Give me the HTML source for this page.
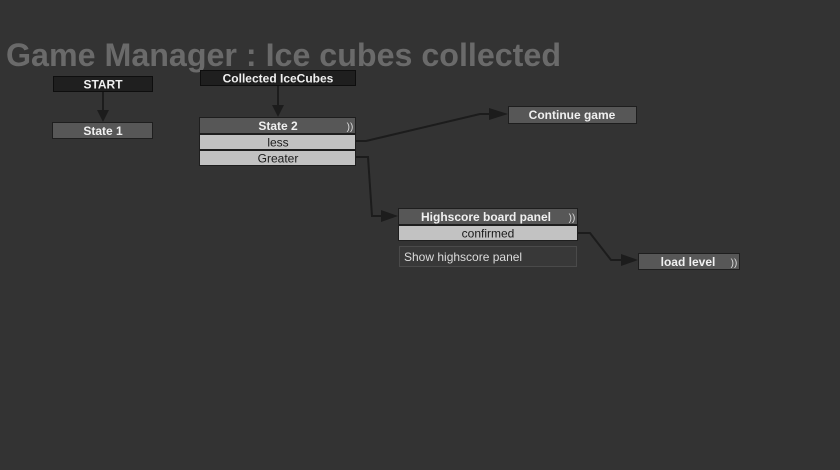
<!DOCTYPE html>
<html><head><meta charset="utf-8"><style>
html,body{margin:0;padding:0;background:#333333;}
svg{display:block;}
text{font-family:"Liberation Sans",sans-serif;}
</style></head><body>
<svg width="840" height="470" viewBox="0 0 840 470" xmlns="http://www.w3.org/2000/svg">
<rect width="840" height="470" fill="#333333"/>
<text x="6" y="66" font-size="32" font-weight="bold" fill="#6a6a6a" textLength="555" lengthAdjust="spacingAndGlyphs">Game Manager : Ice cubes collected</text>

<g stroke="#1c1c1c" stroke-width="2" fill="none">
<path d="M103 92 L103 112"/>
<path d="M278 86 L278 108"/>
<path d="M356 141 L366 141 L480 114 L492 114"/>
<path d="M356 157 L368 157 L372 216 L384 216"/>
<path d="M578 233 L590 233 L611 260 L624 260"/>
</g>
<g fill="#1c1c1c">
<polygon points="97,110 109,110 103,122"/>
<polygon points="272,105 284,105 278,117"/>
<polygon points="489,108 489,120 508,114"/>
<polygon points="381,210 381,222 398,216"/>
<polygon points="621,254 621,266 638,260"/>
</g>

<g font-size="12" font-weight="bold" text-anchor="middle" fill="#f0f0f0">
<rect x="53.5" y="76.5" width="99" height="15" fill="#1f1f1f" stroke="#0e0e0e"/>
<text x="103" y="88.5">START</text>
<rect x="52.5" y="122.5" width="100" height="16" fill="#575757" stroke="#1e1e1e"/>
<text x="103" y="135">State 1</text>
<rect x="200.5" y="70.5" width="155" height="15" fill="#1f1f1f" stroke="#0e0e0e"/>
<text x="278" y="82.5">Collected IceCubes</text>

<rect x="199.5" y="117.5" width="156" height="16" fill="#575757" stroke="#1e1e1e"/>
<text x="278" y="130">State 2</text>
<text x="350" y="130" font-size="10" font-weight="normal" fill="#ddd">))</text>
<rect x="199.5" y="134.5" width="156" height="15" fill="#c2c2c2" stroke="#1e1e1e"/>
<text x="278" y="146.5" font-weight="normal" fill="#1a1a1a">less</text>
<rect x="199.5" y="150.5" width="156" height="15" fill="#c2c2c2" stroke="#1e1e1e"/>
<text x="278" y="162.5" font-weight="normal" fill="#1a1a1a">Greater</text>

<rect x="508.5" y="106.5" width="128" height="17" fill="#575757" stroke="#1e1e1e"/>
<text x="572" y="119">Continue game</text>

<rect x="398.5" y="208.5" width="179" height="16" fill="#575757" stroke="#1e1e1e"/>
<text x="486" y="221">Highscore board panel</text>
<text x="572" y="221" font-size="10" font-weight="normal" fill="#ddd">))</text>
<rect x="398.5" y="225.5" width="179" height="15" fill="#c2c2c2" stroke="#1e1e1e"/>
<text x="488" y="237.5" font-weight="normal" fill="#1a1a1a">confirmed</text>
<rect x="399.5" y="246.5" width="177" height="20" fill="#383838" stroke="#4a4a4a"/>
<text x="404" y="261" text-anchor="start" font-weight="normal" fill="#dcdcdc">Show highscore  panel</text>

<rect x="638.5" y="253.5" width="101" height="16" fill="#575757" stroke="#1e1e1e"/>
<text x="688" y="266">load level</text>
<text x="734" y="266" font-size="10" font-weight="normal" fill="#ddd">))</text>
</g>
</svg>
</body></html>
